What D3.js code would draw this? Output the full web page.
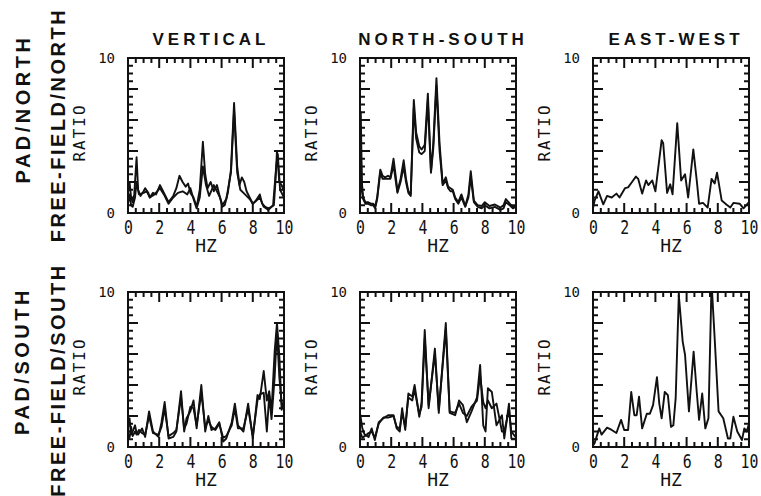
<!DOCTYPE html>
<html>
<head>
<meta charset="utf-8">
<script src="https://cdn.jsdelivr.net/npm/d3@7"></script>
<style>
  body { margin: 0; background: #fff; }
  svg { display: block; }
</style>
</head>
<body>
<svg id="chart" width="761" height="496"></svg>
<script>
// column titles and row labels
const colTitles = ["VERTICAL", "NORTH-SOUTH", "EAST-WEST"];
const rowPad = ["PAD/NORTH", "PAD/SOUTH"];
const rowFree = ["FREE-FIELD/NORTH", "FREE-FIELD/SOUTH"];
const xTickLabels = [0, 2, 4, 6, 8, 10];
const yTickLabels = [0, 10];

// spectral ratio curves, [hz, ratio]
const vertNorthA = [[0,1.3],[0.1,2.0],[0.2,1.0],[0.3,0.7],[0.4,1.2],[0.55,3.6],[0.65,1.5],[0.8,1.1],[1.0,1.4],[1.1,1.6],[1.3,1.3],[1.4,1.0],[1.6,1.3],[1.8,1.2],[2.05,1.8],[2.2,1.5],[2.4,1.1],[2.6,0.7],[2.9,1.1],[3.1,1.6],[3.3,2.4],[3.5,2.0],[3.7,1.7],[3.85,1.9],[4.0,1.3],[4.2,1.0],[4.4,0.4],[4.6,1.5],[4.8,4.6],[4.95,2.5],[5.1,1.6],[5.3,2.0],[5.5,1.4],[5.7,1.8],[5.85,1.2],[6.05,0.4],[6.2,0.5],[6.4,1.3],[6.6,2.8],[6.8,7.1],[7.0,3.0],[7.15,1.8],[7.3,2.3],[7.45,2.0],[7.6,1.4],[7.8,1.0],[8.0,0.6],[8.2,0.8],[8.45,1.2],[8.6,0.6],[8.8,0.4],[9.0,0.3],[9.2,0.4],[9.35,0.5],[9.45,2.0],[9.55,4.0],[9.7,2.0],[9.85,1.8],[10,1.4]];
const vertNorthB = [[0,0.6],[0.1,1.2],[0.2,0.5],[0.3,0.4],[0.45,1.0],[0.55,2.0],[0.7,1.2],[1.0,1.3],[1.2,1.4],[1.4,1.0],[1.7,1.2],[2.05,1.6],[2.3,1.2],[2.6,0.6],[2.9,1.0],[3.2,1.3],[3.5,1.4],[3.8,1.2],[4.0,1.6],[4.2,0.9],[4.4,0.3],[4.6,1.0],[4.8,3.0],[5.0,1.8],[5.2,1.1],[5.5,1.8],[5.7,1.4],[5.9,1.0],[6.05,0.5],[6.3,0.9],[6.6,2.6],[6.8,6.6],[7.0,2.6],[7.2,1.5],[7.5,1.2],[7.8,0.9],[8.0,0.6],[8.45,1.0],[8.7,0.4],[9.0,0.2],[9.3,0.5],[9.5,3.0],[9.6,3.8],[9.75,1.5],[10,1.0]];
const nsNorthA = [[0,0.8],[0.05,6.5],[0.12,2.0],[0.2,1.0],[0.35,0.7],[0.5,0.7],[0.7,0.6],[0.85,0.6],[0.97,0.4],[1.1,1.0],[1.3,2.8],[1.45,2.4],[1.6,2.3],[1.8,2.4],[1.95,2.3],[2.15,3.5],[2.3,2.3],[2.4,1.4],[2.6,2.2],[2.8,3.4],[2.95,2.2],[3.1,1.4],[3.25,1.2],[3.45,7.3],[3.6,5.2],[3.8,4.3],[3.95,4.1],[4.15,4.4],[4.35,7.7],[4.55,2.7],[4.7,4.5],[4.9,8.7],[5.1,4.5],[5.3,1.9],[5.5,2.3],[5.65,1.7],[5.8,1.6],[5.95,1.5],[6.1,1.0],[6.3,0.7],[6.5,1.2],[6.75,0.45],[6.95,1.2],[7.1,2.7],[7.3,0.8],[7.55,0.5],[7.8,0.45],[8.0,0.7],[8.3,0.45],[8.65,0.55],[9.0,0.35],[9.2,0.5],[9.35,0.9],[9.6,0.6],[9.8,0.4],[10,0.5]];
const nsNorthB = [[0,0.5],[0.05,4.0],[0.12,1.5],[0.2,0.9],[0.35,0.6],[0.5,0.6],[0.7,0.5],[0.85,0.5],[0.97,0.3],[1.1,0.9],[1.3,2.6],[1.45,2.2],[1.6,2.2],[1.8,2.2],[1.95,2.2],[2.15,3.1],[2.3,2.0],[2.4,1.3],[2.6,2.0],[2.8,3.0],[2.95,2.0],[3.1,1.3],[3.25,1.1],[3.45,6.8],[3.6,4.8],[3.8,3.9],[3.95,3.8],[4.15,4.0],[4.35,7.2],[4.55,2.6],[4.7,4.2],[4.9,8.2],[5.1,4.0],[5.3,1.8],[5.5,2.1],[5.65,1.6],[5.8,1.4],[5.95,1.4],[6.1,0.9],[6.3,0.6],[6.5,1.0],[6.75,0.4],[6.95,1.0],[7.1,2.3],[7.3,0.7],[7.55,0.4],[7.8,0.3],[8.0,0.5],[8.3,0.3],[8.65,0.4],[9.0,0.2],[9.2,0.3],[9.35,0.7],[9.6,0.5],[9.8,0.3],[10,0.4]];
const ewNorth = [[0,0.3],[0.1,0.8],[0.35,1.4],[0.66,0.56],[0.9,1.1],[1.2,1.0],[1.5,1.25],[1.7,1.0],[2.05,1.6],[2.25,1.65],[2.5,2.0],[2.75,2.35],[2.9,2.2],[3.15,1.25],[3.4,2.1],[3.55,1.8],[3.8,2.1],[4.0,1.4],[4.4,4.7],[4.5,4.5],[4.75,1.3],[4.95,1.85],[5.1,1.2],[5.4,5.8],[5.65,2.1],[5.9,2.5],[6.1,1.0],[6.43,4.1],[6.65,2.1],[6.8,0.6],[7.05,0.65],[7.35,0.35],[7.6,2.2],[7.8,1.9],[7.95,2.6],[8.25,0.8],[8.55,0.55],[8.8,0.35],[9.0,0.65],[9.4,0.6],[9.65,0.3],[9.95,0.65],[10,0.5]];
const vertSouthA = [[0,1.2],[0.1,1.85],[0.2,0.8],[0.3,1.0],[0.45,1.4],[0.55,0.9],[0.65,0.8],[0.9,1.2],[1.1,0.65],[1.35,2.3],[1.6,1.0],[1.95,0.65],[2.15,1.6],[2.35,2.9],[2.6,0.55],[2.9,0.65],[3.1,1.0],[3.4,3.6],[3.6,1.0],[3.75,1.85],[4.0,2.3],[4.2,3.0],[4.4,1.2],[4.7,4.0],[4.95,1.0],[5.15,2.0],[5.35,1.1],[5.6,1.2],[5.85,1.6],[6.1,0.35],[6.3,0.55],[6.65,1.6],[6.85,2.8],[7.05,1.4],[7.4,1.0],[7.7,2.8],[8.0,0.55],[8.3,3.35],[8.45,3.1],[8.7,4.9],[8.9,3.0],[9.05,3.6],[9.2,2.3],[9.4,6.15],[9.55,8.0],[9.7,5.9],[9.85,2.4],[10,3.0]];
const vertSouthB = [[0,0.5],[0.1,0.6],[0.2,1.3],[0.3,0.7],[0.45,1.0],[0.55,0.8],[0.7,1.1],[0.9,0.9],[1.1,0.8],[1.35,2.0],[1.6,0.9],[1.95,0.8],[2.15,1.3],[2.35,2.5],[2.6,0.7],[2.9,0.9],[3.1,1.1],[3.4,3.2],[3.6,1.2],[3.75,1.5],[4.0,2.6],[4.2,2.5],[4.4,1.4],[4.7,3.5],[4.95,1.3],[5.15,1.7],[5.35,1.3],[5.6,1.1],[5.85,1.5],[6.1,0.6],[6.3,0.7],[6.65,1.4],[6.85,2.5],[7.05,1.2],[7.4,1.2],[7.7,2.5],[8.0,0.7],[8.3,3.0],[8.45,3.4],[8.7,3.5],[8.9,1.0],[9.05,3.3],[9.2,1.8],[9.4,4.5],[9.55,7.5],[9.7,4.5],[9.85,2.8],[10,2.5]];
const nsSouthA = [[0,2.2],[0.15,1.2],[0.3,0.8],[0.55,0.65],[0.75,1.2],[0.95,0.45],[1.2,1.6],[1.5,1.85],[1.8,2.05],[2.15,2.05],[2.35,1.2],[2.55,1.0],[2.7,2.5],[2.9,1.1],[3.1,3.45],[3.35,3.25],[3.5,4.0],[3.8,1.95],[3.95,2.9],[4.15,7.55],[4.4,2.5],[4.8,6.35],[5.05,2.2],[5.5,8.0],[5.75,2.2],[6.1,2.05],[6.35,3.0],[6.6,2.7],[6.85,1.6],[7.15,2.3],[7.5,3.2],[7.7,5.3],[7.9,1.4],[8.05,1.0],[8.2,3.8],[8.45,3.55],[8.75,1.4],[9.1,2.05],[9.25,0.55],[9.55,2.8],[9.7,0.55],[10,0.5]];
const nsSouthB = [[0,1.0],[0.15,0.6],[0.3,0.7],[0.55,0.9],[0.75,1.0],[0.95,0.6],[1.2,1.5],[1.5,1.9],[1.8,1.9],[2.15,2.0],[2.35,1.3],[2.55,1.2],[2.7,2.2],[2.9,1.3],[3.1,3.2],[3.35,3.0],[3.5,3.7],[3.8,2.1],[3.95,2.6],[4.15,7.0],[4.4,2.7],[4.8,6.0],[5.05,2.4],[5.5,7.6],[5.75,2.3],[6.1,2.2],[6.35,2.8],[6.6,2.2],[6.85,2.0],[7.15,2.6],[7.5,3.0],[7.7,4.6],[7.9,2.9],[8.05,2.5],[8.2,3.0],[8.45,2.5],[8.75,2.8],[9.1,1.0],[9.25,1.0],[9.55,2.4],[9.7,1.0],[10,0.6]];
const ewSouth = [[0,0.1],[0.1,0.25],[0.4,1.2],[0.55,0.8],[0.9,1.25],[1.2,1.1],[1.5,0.9],[1.8,1.75],[2.0,1.1],[2.25,1.1],[2.45,3.55],[2.65,2.05],[2.8,2.05],[2.95,3.25],[3.15,1.2],[3.45,2.15],[3.65,2.15],[3.85,2.7],[4.1,4.5],[4.25,2.8],[4.4,1.85],[4.6,3.55],[4.8,3.35],[5.0,1.3],[5.15,1.4],[5.3,3.15],[5.5,9.8],[5.75,6.8],[5.9,5.95],[6.15,2.3],[6.45,6.15],[6.65,3.55],[6.8,1.75],[7.0,3.45],[7.2,1.2],[7.4,1.85],[7.6,10.6],[7.8,7.0],[8.05,2.3],[8.35,1.85],[8.65,0.55],[8.8,0.55],[9.0,1.95],[9.25,1.0],[9.55,0.45],[9.7,1.2],[9.85,1.0],[10,1.5]];

const panels = [
  { row: 0, col: 0, series: [vertNorthA, vertNorthB] },
  { row: 0, col: 1, series: [nsNorthA, nsNorthB] },
  { row: 0, col: 2, series: [ewNorth] },
  { row: 1, col: 0, series: [vertSouthA, vertSouthB] },
  { row: 1, col: 1, series: [nsSouthA, nsSouthB] },
  { row: 1, col: 2, series: [ewSouth] }
];

// layout
const colX = [128, 360, 593];
const rowY = [58, 292];
const pw = 156, ph = 155;
const plotFont = "'DejaVu Sans Mono', 'Liberation Mono', monospace";
const boldFont = "'Liberation Sans', Arial, sans-serif";
const ink = "#111";

const svg = d3.select("#chart");

const x = d3.scaleLinear().domain([0, 10]).range([0, pw]);
const y = d3.scaleLinear().domain([0, 10]).range([ph, 0]);

// every 0.5 unit a short tick, every 2 units a long one
const tickVals = d3.range(0.5, 10, 0.5);
const tickLen = d => (d % 2 === 0 ? 10 : 5);

const line = d3.line()
  .x(d => x(d[0]))
  .y(d => y(d[1]));

// all inward ticks of one frame as a single path
function tickPath() {
  const p = d3.path();
  tickVals.forEach(d => {
    const k = tickLen(d);
    p.moveTo(x(d), ph); p.lineTo(x(d), ph - k);
    p.moveTo(x(d), 0); p.lineTo(x(d), k);
    p.moveTo(0, y(d)); p.lineTo(k, y(d));
    p.moveTo(pw, y(d)); p.lineTo(pw - k, y(d));
  });
  return p.toString();
}

svg.append("defs").append("clipPath")
  .attr("id", "plotclip")
  .append("rect")
  .attr("width", pw)
  .attr("height", ph);

panels.forEach(p => {
  const g = svg.append("g")
    .attr("transform", `translate(${colX[p.col]},${rowY[p.row]})`);

  g.append("path")
    .attr("d", tickPath())
    .attr("fill", "none")
    .attr("stroke", ink)
    .attr("stroke-width", 2);

  // frame
  g.append("rect")
    .attr("width", pw)
    .attr("height", ph)
    .attr("fill", "none")
    .attr("stroke", ink)
    .attr("stroke-width", 2);

  // curves
  const cg = g.append("g").attr("clip-path", "url(#plotclip)");
  p.series.forEach(s => {
    cg.append("path")
      .datum(s)
      .attr("d", line)
      .attr("fill", "none")
      .attr("stroke", ink)
      .attr("stroke-width", 1.9)
      .attr("stroke-linejoin", "round");
  });

  // x tick labels
  const xl = g.append("g")
    .attr("transform", `translate(0,${ph + 7})`)
    .call(d3.axisBottom(x).tickValues(xTickLabels).tickSize(0).tickPadding(0).tickFormat(d3.format("d")));
  xl.select(".domain").remove();
  xl.selectAll("text")
    .attr("font-family", plotFont)
    .attr("font-size", 19)
    .attr("fill", ink)
    .attr("transform", "scale(0.78,1)");

  // y tick labels
  const yl = g.append("g")
    .call(d3.axisLeft(y).tickValues(yTickLabels).tickSize(0).tickPadding(13).tickFormat(d3.format("d")));
  yl.select(".domain").remove();
  yl.selectAll("text")
    .attr("font-family", plotFont)
    .attr("font-size", 14)
    .attr("fill", ink);

  // axis titles
  g.append("text")
    .attr("x", pw / 2)
    .attr("y", ph + 39)
    .attr("text-anchor", "middle")
    .attr("font-family", plotFont)
    .attr("font-size", 18)
    .attr("fill", ink)
    .text("HZ");

  g.append("text")
    .attr("transform", `translate(-43,${ph / 2 - 3}) rotate(-90)`)
    .attr("text-anchor", "middle")
    .attr("font-family", plotFont)
    .attr("font-size", 16)
    .attr("letter-spacing", 2)
    .attr("fill", ink)
    .text("RATIO");
});

// column titles
colTitles.forEach((t, i) => {
  svg.append("text")
    .attr("x", colX[i] + pw / 2 + 5)
    .attr("y", 45)
    .attr("text-anchor", "middle")
    .attr("font-family", boldFont)
    .attr("font-weight", "bold")
    .attr("font-size", 17)
    .attr("letter-spacing", 4)
    .attr("fill", ink)
    .text(t);
});

// row labels
const padPos = [[30, 109], [29, 361]];
const freePos = [[65, 125], [65, 380]];
rowPad.forEach((t, i) => {
  svg.append("text")
    .attr("transform", `translate(${padPos[i][0]},${padPos[i][1]}) rotate(-90)`)
    .attr("text-anchor", "middle")
    .attr("font-family", boldFont)
    .attr("font-weight", "bold")
    .attr("font-size", 20)
    .attr("letter-spacing", 3.5)
    .attr("fill", ink)
    .text(t);
});
rowFree.forEach((t, i) => {
  svg.append("text")
    .attr("transform", `translate(${freePos[i][0]},${freePos[i][1]}) rotate(-90)`)
    .attr("text-anchor", "middle")
    .attr("font-family", boldFont)
    .attr("font-weight", "bold")
    .attr("font-size", 20)
    .attr("letter-spacing", 2.5)
    .attr("fill", ink)
    .text(t);
});
</script>
</body>
</html>
